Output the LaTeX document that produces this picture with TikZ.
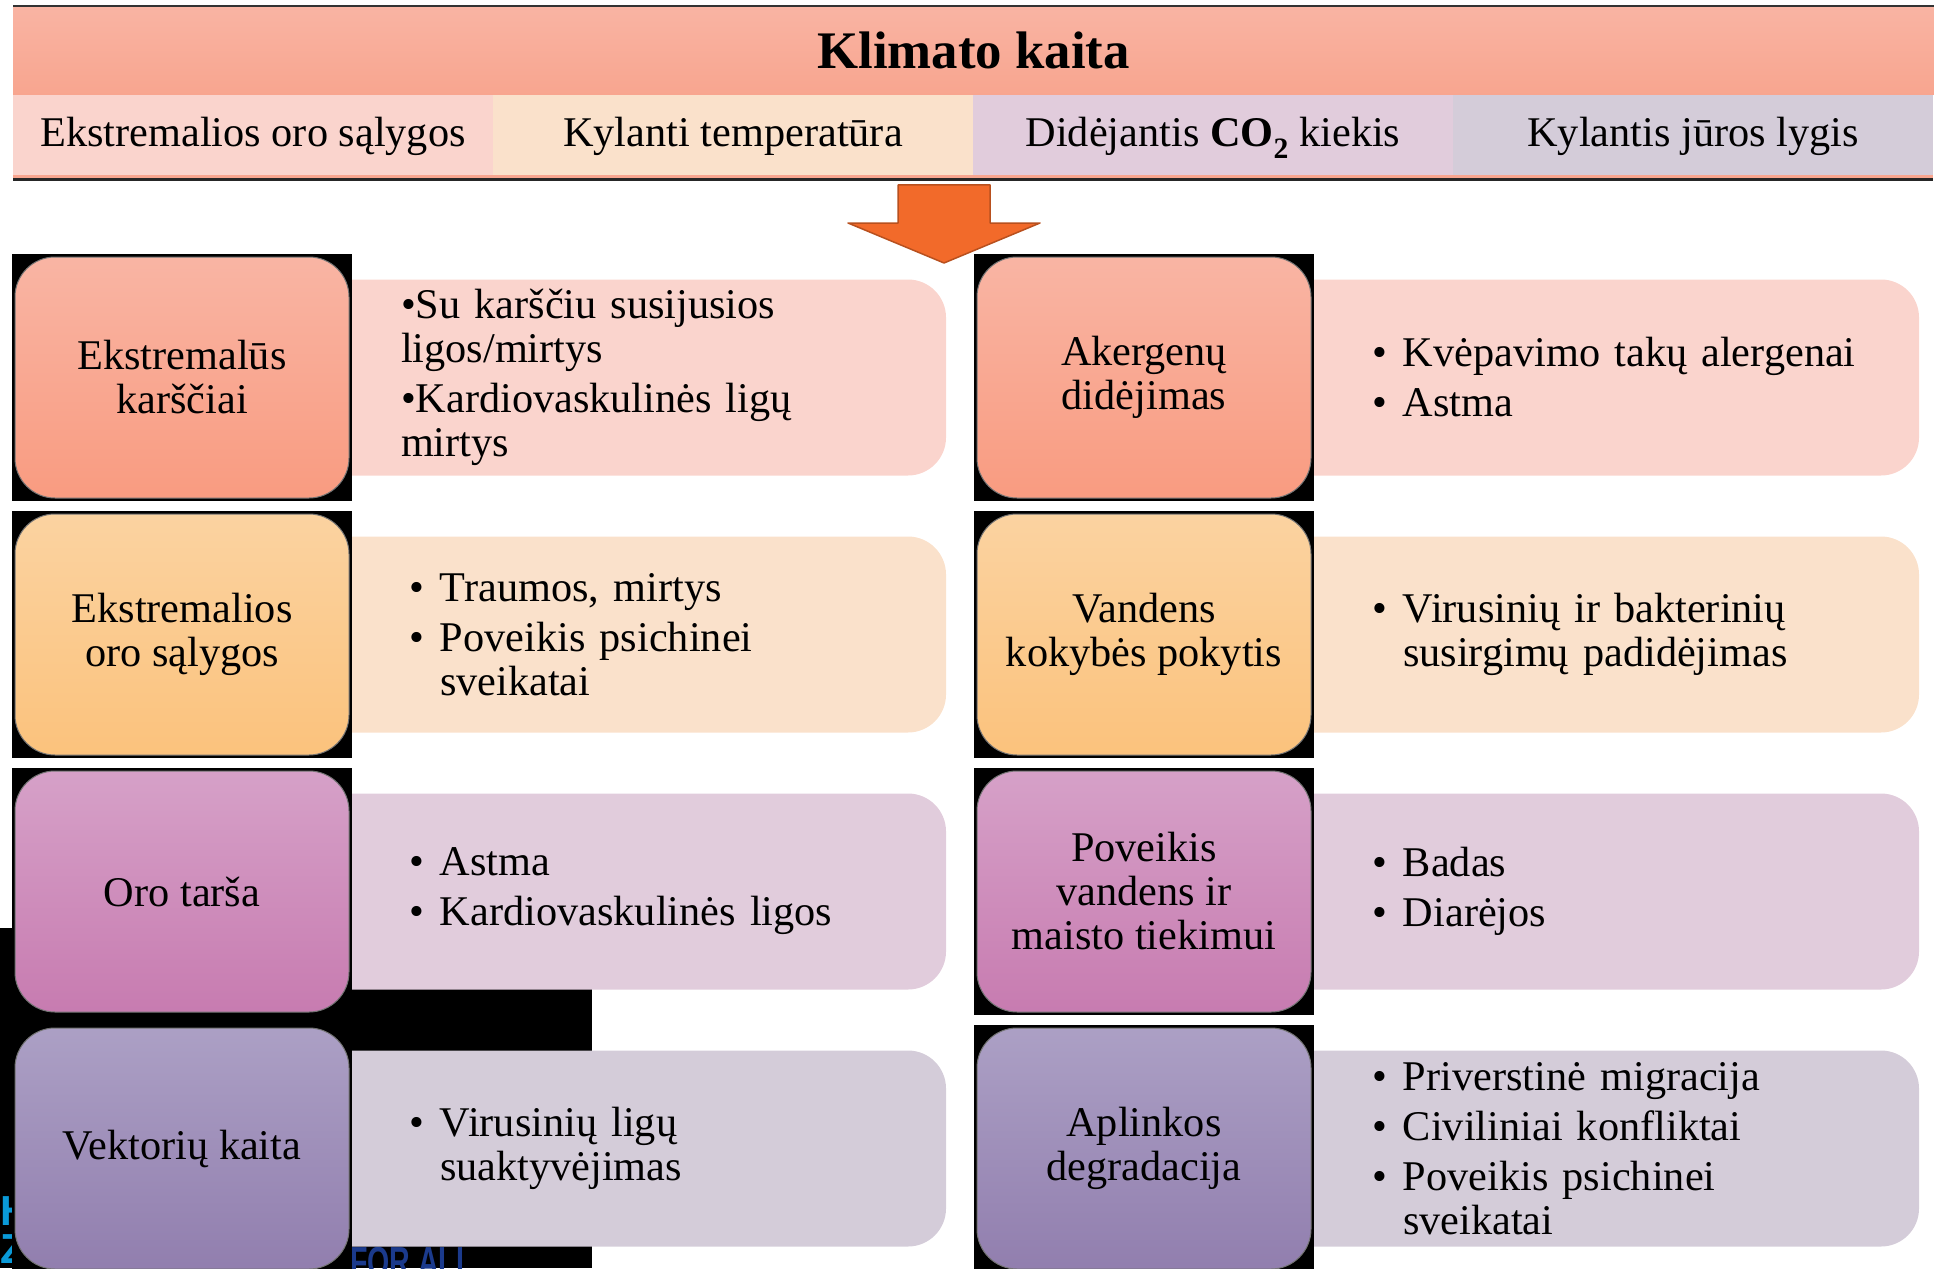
\documentclass[tikz,border=0pt]{standalone}
\usepackage{fontspec}
\setmainfont{Liberation Serif}
\newfontfamily\logofont{Liberation Sans}
\usetikzlibrary{positioning, backgrounds}

\definecolor{titleTop}{HTML}{F9B4A3}
\definecolor{titleBot}{HTML}{F8A58F}
\definecolor{hotTop}{HTML}{F9B5A4}
\definecolor{hotBot}{HTML}{F99B80}
\definecolor{hotTxt}{HTML}{FAD4CD}
\definecolor{stormTop}{HTML}{FBD3A1}
\definecolor{stormBot}{HTML}{FBC27C}
\definecolor{stormTxt}{HTML}{FAE1CB}
\definecolor{smogTop}{HTML}{D6A1C8}
\definecolor{smogBot}{HTML}{C77BB0}
\definecolor{smogTxt}{HTML}{E1CCDC}
\definecolor{vecTop}{HTML}{ACA0C5}
\definecolor{vecBot}{HTML}{917EAE}
\definecolor{vecTxt}{HTML}{D4CCD9}
\definecolor{arrowFill}{HTML}{F26A2A}
\definecolor{arrowLine}{HTML}{B8501E}
\definecolor{logoA}{HTML}{0A9AD8}
\definecolor{logoB}{HTML}{1B3A8C}

\newcommand{\bul}[1]{\hangindent=31pt\hangafter=1\noindent\makebox[31pt][l]{\textbullet}#1\par}

\tikzset{
  body/.style={font=\fontsize{42.3}{44}\selectfont},
  cell/.style={body, fill=#1Txt, minimum width=480pt, minimum height=80pt, text height=32pt, text depth=8pt},
  labbox/.style={body, fill=black, minimum width=340pt, minimum height=247pt, align=center,
    path picture={\shade[top color=#1Top, bottom color=#1Bot, draw=black!55, line width=1pt, rounded corners=40pt]
      ([shift={(3pt,-3pt)}]path picture bounding box.north west) rectangle
      ([shift={(-3pt,3pt)}]path picture bounding box.south east);}},
  txtbox/.style={fill=#1Txt, rounded corners=38pt, minimum height=196pt},
  items/.style={font=\fontsize{42.3}{44}\selectfont\setlength{\parskip}{6pt}, text width=520pt, align=left},
  logo/.style={font=\fontsize{42}{42}\selectfont\logofont\bfseries, anchor=base west}
}

\begin{document}
\begin{tikzpicture}[x=1pt, y=-1pt, every node/.style={inner sep=0pt, outer sep=0pt}]
\useasboundingbox (0,0) rectangle (1934,1268);

% header
\node[body, minimum width=1921pt, minimum height=89pt, top color=titleTop, bottom color=titleBot,
  font=\fontsize{52.8}{56}\selectfont\bfseries] (klimat) at (973.5,50.5) {Klimato kaita};
\draw[line width=2.5pt, black!80] (klimat.north west) -- (klimat.north east);
\node[cell=hot, anchor=north west] (s1) at (klimat.south west) {Ekstremalios oro sąlygos};
\node[cell=storm, right=0pt of s1] (s2) {Kylanti temperatūra};
\node[cell=smog, right=0pt of s2] (s3) {Didėjantis \textbf{CO\textsubscript{2}} kiekis};
\node[cell=vec, right=0pt of s3] (s4) {Kylantis jūros lygis};
\fill[titleBot] (s1.south west) rectangle ([yshift=-3pt]s4.south east);
\draw[line width=2.5pt, black!85] ([yshift=-4.5pt]s1.south west) -- ([yshift=-4.5pt]s4.south east);

% arrow
\filldraw[fill=arrowFill, draw=arrowLine, line width=1.5pt, line join=round]
  (898,185) -- (990,185) -- (990,223) -- (1040,223) -- (944,263) -- (848,223) -- (898,223) -- cycle;

% left column
\node[labbox=hot] (heat) at (182,377.5) {Ekstremalūs\\karščiai};
\node[labbox=storm, below=10pt of heat] (storm) {Ekstremalios\\oro sąlygos};
\node[labbox=smog, below=10pt of storm] (smog) {Oro tarša};
\node[labbox=vec, below=10pt of smog] (vector) {Vektorių kaita};

% right column
\node[labbox=hot] (pollen) at (1144,377.5) {Akergenų\\didėjimas};
\node[labbox=storm, below=10pt of pollen] (water) {Vandens\\kokybės pokytis};
\node[labbox=smog, below=10pt of water] (food) {Poveikis\\vandens ir\\maisto tiekimui};
\node[labbox=vec, below=10pt of food] (degrad) {Aplinkos\\degradacija};

\begin{scope}[on background layer]
  \fill[black] (0,928) rectangle (592,1268);
  \node[logo, text=logoA] (logoH) at (0,1225) {H};
  \node[logo, text=logoA] (logoZ) at (0,1263) {Z};
  \node[logo, text=logoB] (logoF) at (350,1276) {\scalebox{0.68}[1]{FOR ALL}};
  \node[txtbox=hot, minimum width=634pt, right=-40pt of heat] (heatBox) {};
  \node[txtbox=storm, minimum width=634pt, right=-40pt of storm] (stormBox) {};
  \node[txtbox=smog, minimum width=634pt, right=-40pt of smog] (smogBox) {};
  \node[txtbox=vec, minimum width=634pt, right=-40pt of vector] (vectorBox) {};
  \node[txtbox=hot, minimum width=645pt, right=-40pt of pollen] (pollenBox) {};
  \node[txtbox=storm, minimum width=645pt, right=-40pt of water] (waterBox) {};
  \node[txtbox=smog, minimum width=645pt, right=-40pt of food] (foodBox) {};
  \node[txtbox=vec, minimum width=645pt, right=-40pt of degrad] (degradBox) {};
\end{scope}

% lists
\node[items, right=49pt of heat] (heatTxt) {\textbullet Su karščiu susijusios\newline ligos/mirtys\par
  \textbullet Kardiovaskulinės ligų\newline mirtys\par};
\node[items, right=57pt of storm] (stormTxt) {\bul{Traumos, mirtys}\bul{Poveikis psichinei\newline sveikatai}};
\node[items, right=57pt of smog] (smogTxt) {\bul{Astma}\bul{Kardiovaskulinės ligos}};
\node[items, right=57pt of vector] (vectorTxt) {\bul{Virusinių ligų\newline suaktyvėjimas}};
\node[items, right=58pt of pollen] (pollenTxt) {\bul{Kvėpavimo takų alergenai}\bul{Astma}};
\node[items, right=58pt of water] (waterTxt) {\bul{Virusinių ir bakterinių\newline susirgimų padidėjimas}};
\node[items, right=58pt of food] (foodTxt) {\bul{Badas}\bul{Diarėjos}};
\node[items, right=58pt of degrad] (degradTxt) {\bul{Priverstinė migracija}\bul{Civiliniai konfliktai}
  \bul{Poveikis psichinei\newline sveikatai}};
\end{tikzpicture}
\end{document}
